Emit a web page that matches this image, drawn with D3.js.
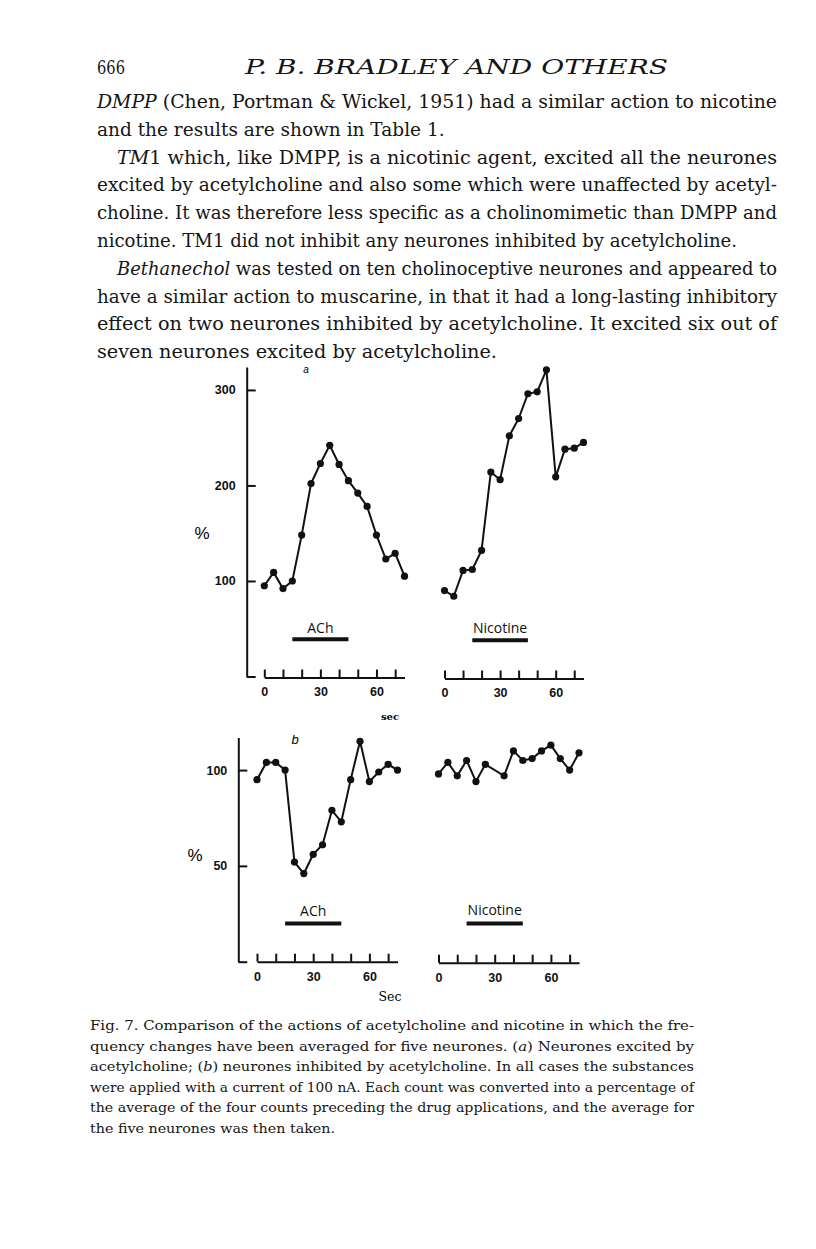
<!DOCTYPE html>
<html>
<head>
    <meta charset="utf-8">
    <title>Fig. 7 - acetylcholine and nicotine</title>
    <script src="https://d3js.org/d3.v7.min.js"></script>
    <style>
        body {
            margin: 0;
            background-color: #fff;
        }
        svg {
            display: block;
        }
        .body-text {
            font-family: "DejaVu Serif", serif;
            font-size: 18.5px;
            fill: #151515;
        }
        .caption {
            font-family: "DejaVu Serif", serif;
            font-size: 13.5px;
            fill: #151515;
        }
        .axis path, .axis line {
            stroke: #111;
            stroke-width: 2px;
        }
        .axis text {
            font-family: "Liberation Sans", Arial, sans-serif;
            font-weight: bold;
            font-size: 12.5px;
            fill: #111;
        }
        .trace {
            fill: none;
            stroke: #111;
            stroke-width: 2px;
        }
        .dot {
            fill: #111;
        }
        .drug-bar {
            stroke: #111;
            stroke-width: 4px;
        }
        .drug-label {
            font-family: "Open Sans", "DejaVu Sans", sans-serif;
            font-size: 14px;
            fill: #111;
        }
    </style>
</head>
<body>
<div id="page"></div>
<script>
    // time of each count (sec)
    const timeSec = [0, 5, 10, 15, 20, 25, 30, 35, 40, 45, 50, 55, 60, 65, 70, 75];
    const timeSecNicB = [0, 5, 10, 15, 20, 25, 35, 40, 45, 50, 55, 60, 65, 70, 75];

    // (a) neurones excited by acetylcholine, % of control
    const achExcited = [95, 109, 92, 100, 148, 202, 223, 242, 222, 205, 192, 178, 148, 123, 129, 105];
    const nicExcited = [90, 84, 111, 112, 132, 214, 206, 252, 270, 296, 298, 321, 209, 238, 239, 245];

    // (b) neurones inhibited by acetylcholine, % of control
    const achInhibited = [95, 104, 104, 100, 52, 46, 56, 61, 79, 73, 95, 115, 94, 99, 103, 100];
    const nicInhibited = [98, 104, 97, 105, 94, 103, 97, 110, 105, 106, 110, 113, 106, 100, 109];

    // drug application period (sec)
    const drugStart = 15;
    const drugEnd = 45;

    const yTicksA = [0, 100, 200, 300];
    const yTicksB = [0, 50, 100];
    const xTicks = [0, 10, 20, 30, 40, 50, 60, 70];
    const xLabelled = [0, 30, 60];

    const width = 816;
    const height = 1249;

    const svg = d3.select('#page')
        .append('svg')
        .attr('width', width)
        .attr('height', height);

    svg.append('rect').attr('width', width).attr('height', height).attr('fill', '#fff');

    // ---- page text ----
    svg.append('text')
        .attr('class', 'body-text')
        .attr('x', 97).attr('y', 74)
        .attr('textLength', 28).attr('lengthAdjust', 'spacingAndGlyphs')
        .text('666');

    svg.append('text')
        .attr('class', 'body-text')
        .attr('x', 245).attr('y', 74)
        .style('font-style', 'italic')
        .style('font-size', '20px')
        .attr('textLength', 423).attr('lengthAdjust', 'spacingAndGlyphs')
        .text('P. B. BRADLEY  AND  OTHERS');

    // each line: [x start, x end (null = natural width), parts]  (parts: [text, italic])
    const bodyLines = [
        [97, 777, [['DMPP', true], [' (Chen, Portman & Wickel, 1951) had a similar action to nicotine', false]]],
        [97, null, [['and the results are shown in Table 1.', false]]],
        [117, 777, [['TM', true], ['1 which, like DMPP, is a nicotinic agent, excited all the neurones', false]]],
        [97, 777, [['excited by acetylcholine and also some which were unaffected by acetyl-', false]]],
        [97, 777, [['choline. It was therefore less specific as a cholinomimetic than DMPP and', false]]],
        [97, 737, [['nicotine. TM1 did not inhibit any neurones inhibited by acetylcholine.', false]]],
        [117, 777, [['Bethanechol', true], [' was tested on ten cholinoceptive neurones and appeared to', false]]],
        [97, 777, [['have a similar action to muscarine, in that it had a long-lasting inhibitory', false]]],
        [97, 777, [['effect on two neurones inhibited by acetylcholine. It excited six out of', false]]],
        [97, 497, [['seven neurones excited by acetylcholine.', false]]]
    ];

    bodyLines.forEach((line, i) => {
        const t = svg.append('text')
            .attr('class', 'body-text')
            .attr('x', line[0])
            .attr('y', 108 + i * 27.8);
        if (line[1] !== null) {
            t.attr('textLength', line[1] - line[0])
                .attr('lengthAdjust', 'spacingAndGlyphs');
        }
        line[2].forEach(p => {
            t.append('tspan')
                .style('font-style', p[1] ? 'italic' : 'normal')
                .text(p[0]);
        });
    });

    const captionLines = [
        [694, [['Fig. 7. Comparison of the actions of acetylcholine and nicotine in which the fre-', false]]],
        [694, [['quency changes have been averaged for five neurones. (', false], ['a', true], [') Neurones excited by', false]]],
        [694, [['acetylcholine; (', false], ['b', true], [') neurones inhibited by acetylcholine. In all cases the substances', false]]],
        [694, [['were applied with a current of 100 nA. Each count was converted into a percentage of', false]]],
        [694, [['the average of the four counts preceding the drug applications, and the average for', false]]],
        [335, [['the five neurones was then taken.', false]]]
    ];

    captionLines.forEach((line, i) => {
        const t = svg.append('text')
            .attr('class', 'caption')
            .attr('x', 90)
            .attr('y', 1030 + i * 20.6)
            .attr('textLength', line[0] - 90)
            .attr('lengthAdjust', 'spacingAndGlyphs');
        line[1].forEach(p => {
            t.append('tspan')
                .style('font-style', p[1] ? 'italic' : 'normal')
                .text(p[0]);
        });
    });

    // ---- chart panels ----
    const yA = d3.scaleLinear().domain([0, 324]).range([676.5, 367]);
    const yB = d3.scaleLinear().domain([0, 117]).range([961.7, 737.5]);

    const xALeft = d3.scaleLinear().domain([0, 75]).range([264.3, 404.5]);
    const xARight = d3.scaleLinear().domain([0, 75]).range([444.5, 583.5]);
    const xBLeft = d3.scaleLinear().domain([0, 75]).range([257, 397.5]);
    const xBRight = d3.scaleLinear().domain([0, 75]).range([438.5, 579]);

    const drawYAxis = (x, y, ticks) => {
        svg.append('g')
            .attr('class', 'axis')
            .attr('transform', `translate(${x},0)`)
            .call(d3.axisLeft(y)
                .tickValues(ticks)
                .tickSizeInner(-9)
                .tickSizeOuter(0)
                .tickPadding(11)
                .tickFormat(d => d === 0 ? '' : d));
    };

    const drawTimeAxis = (x, yPos) => {
        svg.append('g')
            .attr('class', 'axis')
            .attr('transform', `translate(0,${yPos})`)
            .call(d3.axisBottom(x)
                .tickValues(xTicks)
                .tickSizeInner(-8)
                .tickSizeOuter(0)
                .tickPadding(10)
                .tickFormat(d => xLabelled.includes(d) ? d : ''));
    };

    const drawTrace = (x, y, times, values) => {
        const pts = times.map((t, i) => [t, values[i]]);
        svg.append('path')
            .datum(pts)
            .attr('class', 'trace')
            .attr('d', d3.line().x(d => x(d[0])).y(d => y(d[1])));
        svg.selectAll(null)
            .data(pts)
            .enter()
            .append('circle')
            .attr('class', 'dot')
            .attr('cx', d => x(d[0]))
            .attr('cy', d => y(d[1]))
            .attr('r', 3.6);
    };

    const drawDrug = (x, y, barLevel, labelLevel, name) => {
        svg.append('line')
            .attr('class', 'drug-bar')
            .attr('x1', x(drugStart)).attr('x2', x(drugEnd))
            .attr('y1', y(barLevel)).attr('y2', y(barLevel));
        svg.append('text')
            .attr('class', 'drug-label')
            .attr('x', x((drugStart + drugEnd) / 2))
            .attr('y', y(labelLevel))
            .attr('text-anchor', 'middle')
            .text(name);
    };

    // panel a
    drawYAxis(246.7, yA, yTicksA);
    drawTimeAxis(xALeft, yA(0) + 1);
    drawTimeAxis(xARight, yA(0) + 2);
    drawTrace(xALeft, yA, timeSec, achExcited);
    drawTrace(xARight, yA, timeSec, nicExcited);
    drawDrug(xALeft, yA, 39, 46, 'ACh');
    drawDrug(xARight, yA, 38, 46, 'Nicotine');

    // panel b
    drawYAxis(238.3, yB, yTicksB);
    drawTimeAxis(xBLeft, yB(0));
    drawTimeAxis(xBRight, yB(0) + 1);
    drawTrace(xBLeft, yB, timeSec, achInhibited);
    drawTrace(xBRight, yB, timeSecNicB, nicInhibited);
    drawDrug(xBLeft, yB, 20, 24, 'ACh');
    drawDrug(xBRight, yB, 20, 24.5, 'Nicotine');

    // panel letters, % and sec labels
    const sans = '"Liberation Sans", Arial, sans-serif';
    svg.append('text').attr('x', 306).attr('y', 373)
        .attr('text-anchor', 'middle')
        .style('font-family', sans).style('font-style', 'italic').style('font-size', '10px')
        .text('a');
    svg.append('text').attr('x', 295).attr('y', 744)
        .attr('text-anchor', 'middle')
        .style('font-family', sans).style('font-style', 'italic').style('font-size', '13px')
        .text('b');
    svg.append('text').attr('x', 202).attr('y', 539)
        .attr('text-anchor', 'middle')
        .style('font-family', sans).style('font-size', '17px')
        .text('%');
    svg.append('text').attr('x', 195).attr('y', 861)
        .attr('text-anchor', 'middle')
        .style('font-family', sans).style('font-size', '17px')
        .text('%');
    svg.append('text').attr('x', 390).attr('y', 720)
        .attr('text-anchor', 'middle')
        .style('font-family', '"DejaVu Serif", serif').style('font-weight', 'bold').style('font-size', '10px')
        .text('sec');
    svg.append('text').attr('x', 390).attr('y', 1001)
        .attr('text-anchor', 'middle')
        .style('font-family', '"DejaVu Serif", serif').style('font-size', '12.5px')
        .text('Sec');
</script>
</body>
</html>
